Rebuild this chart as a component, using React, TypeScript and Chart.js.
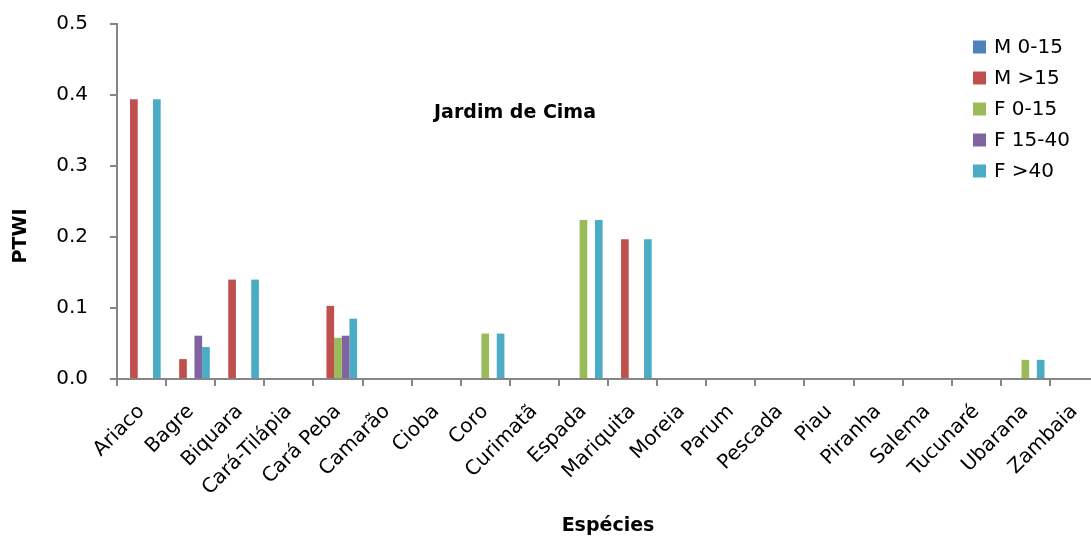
import React, { useEffect, useRef } from "react";
import { Chart, registerables } from "chart.js";

Chart.register(...registerables);

// Species sampled at Jardim de Cima
const species = [
  "Ariaco", "Bagre", "Biquara", "Cará-Tilápia", "Cará Peba", "Camarão", "Cioba",
  "Coro", "Curimatã", "Espada", "Mariquita", "Moreia", "Parum", "Pescada",
  "Piau", "Piranha", "Salema", "Tucunaré", "Ubarana", "Zambaia",
];

// PTWI per sex / size class
const m0_15 = [0, 0, 0, 0, 0, 0, 0, 0, 0, 0, 0, 0, 0, 0, 0, 0, 0, 0, 0, 0];
const mOver15 = [0.394, 0.028, 0.14, 0, 0.103, 0, 0, 0, 0, 0, 0.197, 0, 0, 0, 0, 0, 0, 0, 0, 0];
const f0_15 = [0, 0, 0, 0, 0.058, 0, 0, 0.064, 0, 0.224, 0, 0, 0, 0, 0, 0, 0, 0, 0.027, 0];
const f15_40 = [0, 0.061, 0, 0, 0.061, 0, 0, 0, 0, 0, 0, 0, 0, 0, 0, 0, 0, 0, 0, 0];
const fOver40 = [0.394, 0.045, 0.14, 0, 0.085, 0, 0, 0.064, 0, 0.224, 0.197, 0, 0, 0, 0, 0, 0, 0, 0.027, 0];

const seriesNames = ["M 0-15", "M >15", "F 0-15", "F 15-40", "F >40"];
const seriesColors = ["#4F81BD", "#C0504D", "#9BBB59", "#8064A2", "#4BACC6"];
const seriesValues = [m0_15, mOver15, f0_15, f15_40, fOver40];

const yTickLabels = ["0.0", "0.1", "0.2", "0.3", "0.4", "0.5"];

const chartTitle = "Jardim de Cima";
const xTitle = "Espécies";
const yTitle = "PTWI";

const FONT = "'DejaVu Sans', sans-serif";
const AXIS_GREY = "#868686";

// Draws the inner title, the axis titles and the legend box inside the plot
const annotations = {
  id: "annotations",
  afterDraw(chart: any) {
    const ctx = chart.ctx as CanvasRenderingContext2D;
    const area = chart.chartArea;
    ctx.save();
    ctx.fillStyle = "#000";

    ctx.font = `bold 19px ${FONT}`;
    ctx.textAlign = "center";
    ctx.textBaseline = "middle";
    ctx.fillText(chartTitle, 515, 113);

    ctx.fillText(xTitle, (area.left + area.right) / 2, 526);

    ctx.save();
    ctx.translate(21, 236);
    ctx.rotate(-Math.PI / 2);
    ctx.fillText(yTitle, 0, 0);
    ctx.restore();

    ctx.font = `20px ${FONT}`;
    ctx.textAlign = "left";
    chart.data.datasets.forEach((ds: any, i: number) => {
      const cy = 47 + i * 31;
      ctx.fillStyle = ds.backgroundColor;
      ctx.fillRect(973, cy - 6.5, 13, 13);
      ctx.fillStyle = "#000";
      ctx.fillText(ds.label, 994, cy + 1);
    });
    ctx.restore();
  },
};

export default function App() {
  const canvasRef = useRef<HTMLCanvasElement | null>(null);

  useEffect(() => {
    const canvas = canvasRef.current;
    if (!canvas) return;
    const chart = new Chart(canvas, {
      type: "bar",
      data: {
        labels: species,
        datasets: seriesNames.map((name, i) => ({
          label: name,
          data: seriesValues[i],
          backgroundColor: seriesColors[i],
          borderWidth: 0,
          categoryPercentage: 0.78,
          barPercentage: 1,
        })),
      },
      options: {
        responsive: false,
        animation: false,
        layout: { padding: { top: 24, right: 11, left: 0, bottom: 0 } },
        plugins: {
          legend: { display: false },
          tooltip: { enabled: false },
        },
        scales: {
          x: {
            afterFit: (scale: any) => {
              scale.height = 161;
              scale.paddingLeft = 0;
              scale.paddingRight = 0;
            },
            grid: {
              display: true,
              drawOnChartArea: false,
              drawTicks: true,
              tickLength: 7,
              color: AXIS_GREY,
              lineWidth: 2,
              offset: true,
            },
            border: { display: true, color: AXIS_GREY, width: 2 },
            ticks: {
              autoSkip: false,
              maxRotation: 45,
              minRotation: 45,
              padding: 14,
              color: "#000",
              font: { family: FONT, size: 20 },
            },
          },
          y: {
            min: 0,
            max: 0.5,
            afterFit: (scale: any) => {
              scale.width = 117;
              scale.paddingTop = 0;
              scale.paddingBottom = 0;
            },
            grid: {
              display: true,
              drawOnChartArea: false,
              drawTicks: true,
              tickLength: 7,
              color: AXIS_GREY,
              lineWidth: 2,
            },
            border: { display: true, color: AXIS_GREY, width: 2 },
            ticks: {
              stepSize: 0.1,
              padding: 22,
              color: "#000",
              font: { family: FONT, size: 20 },
              callback: (_v: any, i: number) => yTickLabels[i],
            },
          },
        },
      },
      plugins: [annotations],
    });
    return () => chart.destroy();
  }, []);

  return (
    <div
      style={{
        position: "fixed",
        left: 0,
        top: 0,
        width: 1091,
        height: 540,
        overflow: "hidden",
        background: "#fff",
      }}
    >
      <canvas ref={canvasRef} width={1110} height={540} />
    </div>
  );
}
